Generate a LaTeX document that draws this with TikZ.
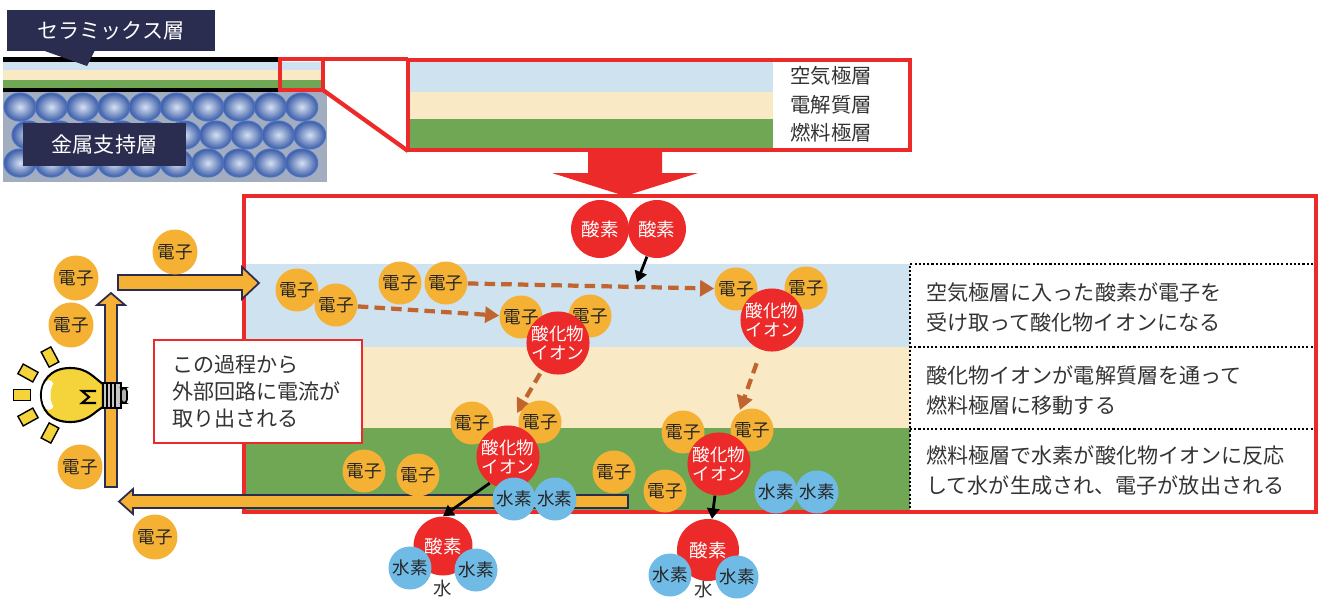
\documentclass[tikz,border=0pt]{standalone}
\usepackage{fontspec}
\setmainfont{Noto Sans CJK JP}
\usetikzlibrary{arrows.meta}

\definecolor{fcred}{HTML}{EC2A2A}
\definecolor{elecorg}{HTML}{F4B134}
\definecolor{airblue}{HTML}{CFE2F0}
\definecolor{elecream}{HTML}{F9E9C4}
\definecolor{fuelgreen}{HTML}{6FA754}
\definecolor{hydblue}{HTML}{70BAE6}
\definecolor{tagnavy}{HTML}{2A2C50}
\definecolor{ionbrown}{HTML}{C0652F}
\definecolor{metalgrey}{HTML}{A2AEC0}
\definecolor{ballin}{HTML}{D5E0F2}
\definecolor{ballout}{HTML}{3B5DA8}
\definecolor{ballline}{HTML}{4B72C2}
\definecolor{bulbyel}{HTML}{F4D33B}
\definecolor{txtgrey}{HTML}{333333}

\begin{document}
\begin{tikzpicture}[x=0.02cm, y=-0.02cm,
  elec/.style={circle, fill=elecorg, minimum size=0.86cm, inner sep=0pt, text=black!85, font=\fontsize{10}{11}\selectfont},
  ion/.style={circle, fill=fcred, minimum size=1.26cm, inner sep=0pt, text=white, align=center, font=\fontsize{10}{11}\selectfont},
  oxy/.style={circle, fill=fcred, minimum size=1.16cm, inner sep=0pt, text=white, font=\fontsize{10.5}{11}\selectfont},
  hyd/.style={circle, fill=hydblue, minimum size=0.86cm, inner sep=0pt, text=black!85, font=\fontsize{10}{11}\selectfont},
  tag/.style={fill=tagnavy, text=white, inner sep=0pt, font=\fontsize{12}{13}\selectfont},
  layername/.style={text=txtgrey, inner sep=0pt, font=\fontsize{11.6}{13}\selectfont},
  note/.style={anchor=west, align=left, text=txtgrey, inner sep=0pt, font=\fontsize{12}{17}\selectfont},
  flowarrow/.style={fill=elecorg, draw=tagnavy, line width=1pt},
  ray/.style={draw, fill=bulbyel, line width=0.8pt, minimum width=0.34cm, minimum height=0.22cm, inner sep=0pt},
  ballstyle/.style={inner color=ballin, outer color=ballout, draw=ballline, line width=0.6pt},
  migrate/.style={ionbrown, line width=2.4pt, dash pattern=on 6pt off 3.5pt, -{Triangle[length=8pt, width=9pt]}},
  react/.style={line width=1.6pt, -{Triangle[length=6pt, width=7pt]}},
  redframe/.style={draw=fcred, line width=2.4pt},
  textcell/.style={line width=1.2pt, dash pattern=on 1.2pt off 1.2pt}]
  \useasboundingbox (0,0) rectangle (1322,599);

  % cell cross section
  \fill[black] (3,57) rectangle (280,62);
  \fill[airblue] (3,62) rectangle (323,70);
  \fill[elecream] (3,70) rectangle (323,80);
  \fill[fuelgreen] (3,80) rectangle (323,88);
  \fill[black] (3,88) rectangle (280,92);
  \fill[metalgrey] (3,92) rectangle (327,182);
  \foreach \k in {0,...,9} {
    \shadedraw[ballstyle] ({20+31.3*\k},107) ellipse [x radius=0.32cm, y radius=0.28cm];
    \shadedraw[ballstyle] ({28+31.3*\k},135) ellipse [x radius=0.32cm, y radius=0.28cm];
    \shadedraw[ballstyle] ({20+31.3*\k},163) ellipse [x radius=0.32cm, y radius=0.28cm];
  }
  \node[tag, minimum width=4.16cm, minimum height=0.82cm] (ceramic) at (111,30.5) {セラミックス層};
  \fill[tagnavy] (42,50) -- (95,50) -- (87,66) -- cycle;
  \node[tag, minimum width=3.26cm, minimum height=0.86cm] (metal) at (104.5,144.5) {金属支持層};

  % close-up of the three layers
  \draw[redframe] (280,59) rectangle (323,90);
  \draw[redframe] (323,59) -- (408,59);
  \draw[redframe] (323,90) -- (408,151);
  \fill[airblue] (408,60) rectangle (773,92);
  \fill[elecream] (408,92) rectangle (773,119);
  \fill[fuelgreen] (408,119) rectangle (773,150);
  \draw[redframe] (408,60) rectangle (910,150);
  \node[layername] (air) at (831,76) {空気極層};
  \node[layername] (elyte) at (831,105) {電解質層};
  \node[layername] (fuel) at (831,133) {燃料極層};
  \fill[fcred] (588,151) -- (662,151) -- (662,173) -- (698,173) -- (625,196) -- (552,173) -- (588,173) -- cycle;

  % reaction panel
  \fill[airblue] (244,264) rectangle (910,347);
  \fill[elecream] (244,347) rectangle (910,428);
  \fill[fuelgreen] (244,428) rectangle (910,512);
  \draw[textcell] (1313,264) -- (910,264) -- (910,512);
  \draw[textcell] (910,347) -- (1313,347);
  \draw[textcell] (910,429) -- (1313,429);
  \node[note] (step1) at (926,307.5) {空気極層に入った酸素が電子を\\受け取って酸化物イオンになる};
  \node[note] (step2) at (926,390.5) {酸化物イオンが電解質層を通って\\燃料極層に移動する};
  \node[note] (step3) at (926,470.5) {燃料極層で水素が酸化物イオンに反応\\して水が生成され、電子が放出される};
  \draw[redframe] (244,196) rectangle (1316,512);

  % external circuit
  \draw[flowarrow] (105,487) -- (117,487) -- (117,305) -- (125,305) -- (111,293) -- (97,305) -- (105,305) -- cycle;
  \draw[flowarrow] (118,275) -- (242,275) -- (242,267) -- (259,283) -- (242,299) -- (242,290) -- (118,290) -- cycle;
  \draw[flowarrow] (628,495) -- (133,495) -- (133,489) -- (119,501.5) -- (133,514) -- (133,508) -- (628,508) -- cycle;
  \node[draw=fcred, line width=1.2pt, fill=white, minimum width=4.16cm, minimum height=2.06cm, text width=3.44cm, inner xsep=0.36cm, align=left, text=txtgrey, font=\fontsize{12}{15.3}\selectfont] (current) at (258,391.5) {この過程から\\外部回路に電流が\\取り出される};

  % air electrode
  \node[oxy] (o1) at (600,229) {酸素};
  \node[oxy, right of=o1, node distance=1.14cm] (o2) {酸素};
  \coordinate (o2in) at (637,282);
  \draw[react] (o2.250) -- (o2in);
  \node[elec] (e1) at (297,290) {電子};
  \node[elec] (e2) at (336,305) {電子};
  \node[elec] (e3) at (400,283) {電子};
  \node[elec, right of=e3, node distance=0.92cm] (e4) {電子};
  \node[elec] (e5) at (521,317) {電子};
  \node[elec] (e6) at (590,316) {電子};
  \node[elec] (e7) at (736,289) {電子};
  \node[elec] (e8) at (806,288) {電子};
  \node[ion] (i1) at (558,343) {酸化物\\イオン};
  \node[ion] (i2) at (772,320) {酸化物\\イオン};
  \draw[migrate] (e4) -- (e7);
  \draw[migrate] (e2) -- (e5);
  \coordinate (d1) at (517,413);
  \coordinate (d2) at (740,410);
  \draw[migrate, shorten <=2pt] (i1) -- (d1);
  \draw[migrate, shorten <=8pt] (i2) -- (d2);

  % fuel electrode
  \node[elec] (e9) at (472,423) {電子};
  \node[elec] (e10) at (540,422) {電子};
  \node[elec] (e11) at (364,471) {電子};
  \node[elec] (e12) at (418,475) {電子};
  \node[elec] (e13) at (614,472) {電子};
  \node[elec] (e14) at (683,432) {電子};
  \node[elec] (e15) at (752,430) {電子};
  \node[ion] (i3) at (508,457) {酸化物\\イオン};
  \node[ion] (i4) at (719,464) {酸化物\\イオン};
  \node[elec] (e16) at (665,491) {電子};
  \node[hyd] (h1) at (514,499) {水素};
  \node[hyd, right of=h1, node distance=0.82cm] (h2) {水素};
  \node[hyd] (h3) at (776,492) {水素};
  \node[hyd, right of=h3, node distance=0.82cm] (h4) {水素};

  % water
  \node[oxy, minimum size=1.18cm] (w1) at (443,546) {酸素};
  \node[hyd] (w1a) at (410,568) {水素};
  \node[hyd] (w1b) at (476,570) {水素};
  \node[text=txtgrey, inner sep=0pt, font=\fontsize{10.5}{11}\selectfont] (w1n) at (443,589) {水};
  \node[oxy, minimum size=1.24cm] (w2) at (708,550) {酸素};
  \node[hyd] (w2a) at (670,575) {水素};
  \node[hyd] (w2b) at (737,577) {水素};
  \node[text=txtgrey, inner sep=0pt, font=\fontsize{10.5}{11}\selectfont] (w2n) at (704,590) {水};
  \draw[react] (i3.235) -- (w1.north);
  \draw[react] (i4) -- (w2);

  % light bulb
  \filldraw[fill=bulbyel, line width=1.2pt] (103,384) .. controls (94,378) and (88,368) .. (70,368) .. controls (50,368) and (41,382) .. (41,395) .. controls (41,409) and (50,422) .. (70,422) .. controls (88,422) and (94,412) .. (103,407) -- cycle;
  \fill[white] (49,395) ellipse [x radius=0.14cm, y radius=0.3cm];
  \fill[bulbyel] (57,395) ellipse [x radius=0.13cm, y radius=0.27cm];
  \draw[line width=1.2pt] (96,391) -- (82,391) -- (89,397) -- (82,403) -- (96,403);
  \filldraw[fill=gray!45, line width=1pt] (103,383) rectangle (121,408);
  \foreach \s in {107,111,115} \draw[line width=1.4pt] (\s,383) -- (\s,408);
  \filldraw[fill=gray!60, line width=1pt, rounded corners=2pt] (121,388) rectangle (127,403);
  \node[ray, rotate=118] (r1) at (50,357) {};
  \node[ray, rotate=151] (r2) at (28,373) {};
  \node[ray] (r3) at (22,395) {};
  \node[ray, rotate=209] (r4) at (28,417) {};
  \node[ray, rotate=242] (r5) at (50,433) {};

  \node[elec, minimum size=0.9cm] (e17) at (175,252) {電子};
  \node[elec, minimum size=0.9cm] (e18) at (76,278) {電子};
  \node[elec, minimum size=0.9cm] (e19) at (71,325) {電子};
  \node[elec, minimum size=0.9cm] (e20) at (80,467) {電子};
  \node[elec, minimum size=0.9cm] (e21) at (155,537) {電子};
\end{tikzpicture}
\end{document}
